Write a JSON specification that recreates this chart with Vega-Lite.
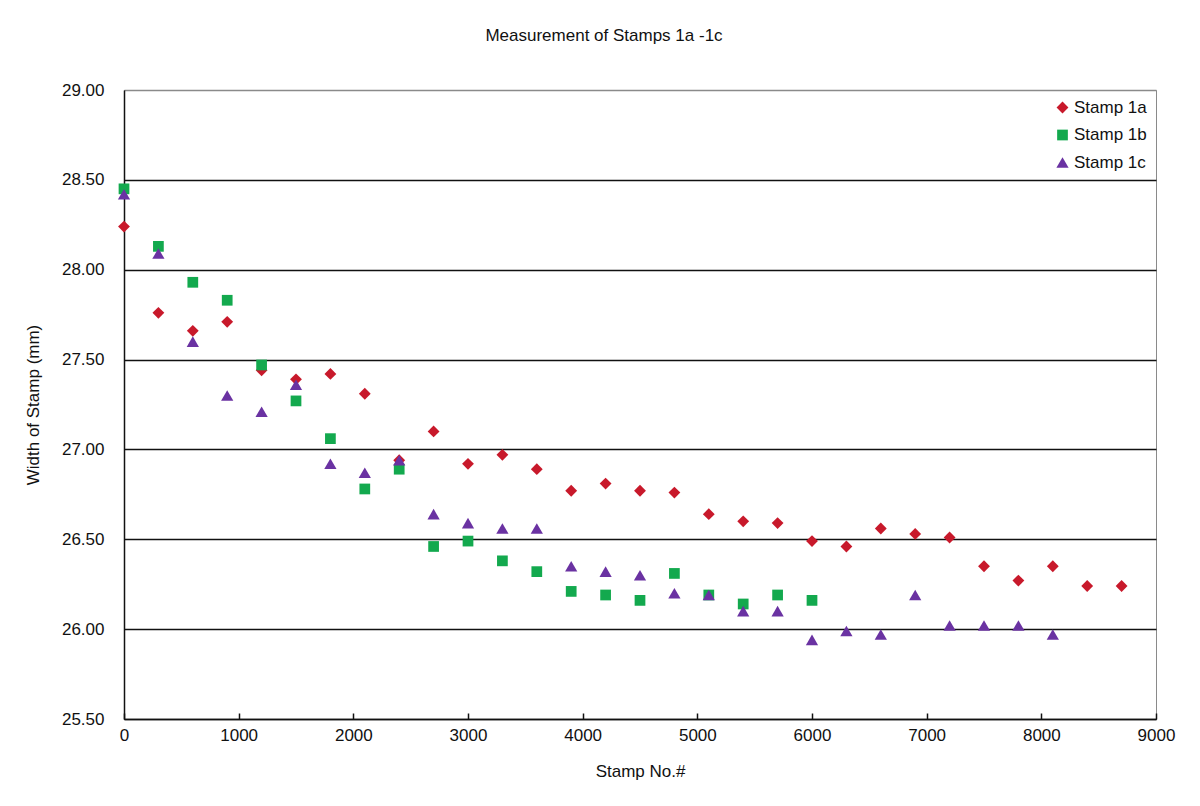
{
  "$schema": "https://vega.github.io/schema/vega-lite/v6.json",
  "width": 1032,
  "height": 629,
  "autosize": {"type": "none"},
  "padding": {"left": 124, "top": 90, "right": 44, "bottom": 87},
  "background": "white",
  "title": {
    "text": "Measurement of Stamps 1a -1c",
    "fontSize": 17,
    "fontWeight": "normal",
    "font": "Liberation Sans",
    "color": "#111",
    "anchor": "middle",
    "dx": -36,
    "offset": 36
  },
  "data": {
    "values": [
      {"n": 0, "w": 28.24, "s": "Stamp 1a"},
      {"n": 300, "w": 27.76, "s": "Stamp 1a"},
      {"n": 600, "w": 27.66, "s": "Stamp 1a"},
      {"n": 900, "w": 27.71, "s": "Stamp 1a"},
      {"n": 1200, "w": 27.44, "s": "Stamp 1a"},
      {"n": 1500, "w": 27.39, "s": "Stamp 1a"},
      {"n": 1800, "w": 27.42, "s": "Stamp 1a"},
      {"n": 2100, "w": 27.31, "s": "Stamp 1a"},
      {"n": 2400, "w": 26.94, "s": "Stamp 1a"},
      {"n": 2700, "w": 27.10, "s": "Stamp 1a"},
      {"n": 3000, "w": 26.92, "s": "Stamp 1a"},
      {"n": 3300, "w": 26.97, "s": "Stamp 1a"},
      {"n": 3600, "w": 26.89, "s": "Stamp 1a"},
      {"n": 3900, "w": 26.77, "s": "Stamp 1a"},
      {"n": 4200, "w": 26.81, "s": "Stamp 1a"},
      {"n": 4500, "w": 26.77, "s": "Stamp 1a"},
      {"n": 4800, "w": 26.76, "s": "Stamp 1a"},
      {"n": 5100, "w": 26.64, "s": "Stamp 1a"},
      {"n": 5400, "w": 26.60, "s": "Stamp 1a"},
      {"n": 5700, "w": 26.59, "s": "Stamp 1a"},
      {"n": 6000, "w": 26.49, "s": "Stamp 1a"},
      {"n": 6300, "w": 26.46, "s": "Stamp 1a"},
      {"n": 6600, "w": 26.56, "s": "Stamp 1a"},
      {"n": 6900, "w": 26.53, "s": "Stamp 1a"},
      {"n": 7200, "w": 26.51, "s": "Stamp 1a"},
      {"n": 7500, "w": 26.35, "s": "Stamp 1a"},
      {"n": 7800, "w": 26.27, "s": "Stamp 1a"},
      {"n": 8100, "w": 26.35, "s": "Stamp 1a"},
      {"n": 8400, "w": 26.24, "s": "Stamp 1a"},
      {"n": 8700, "w": 26.24, "s": "Stamp 1a"},
      {"n": 0, "w": 28.45, "s": "Stamp 1b"},
      {"n": 300, "w": 28.13, "s": "Stamp 1b"},
      {"n": 600, "w": 27.93, "s": "Stamp 1b"},
      {"n": 900, "w": 27.83, "s": "Stamp 1b"},
      {"n": 1200, "w": 27.47, "s": "Stamp 1b"},
      {"n": 1500, "w": 27.27, "s": "Stamp 1b"},
      {"n": 1800, "w": 27.06, "s": "Stamp 1b"},
      {"n": 2100, "w": 26.78, "s": "Stamp 1b"},
      {"n": 2400, "w": 26.89, "s": "Stamp 1b"},
      {"n": 2700, "w": 26.46, "s": "Stamp 1b"},
      {"n": 3000, "w": 26.49, "s": "Stamp 1b"},
      {"n": 3300, "w": 26.38, "s": "Stamp 1b"},
      {"n": 3600, "w": 26.32, "s": "Stamp 1b"},
      {"n": 3900, "w": 26.21, "s": "Stamp 1b"},
      {"n": 4200, "w": 26.19, "s": "Stamp 1b"},
      {"n": 4500, "w": 26.16, "s": "Stamp 1b"},
      {"n": 4800, "w": 26.31, "s": "Stamp 1b"},
      {"n": 5100, "w": 26.19, "s": "Stamp 1b"},
      {"n": 5400, "w": 26.14, "s": "Stamp 1b"},
      {"n": 5700, "w": 26.19, "s": "Stamp 1b"},
      {"n": 6000, "w": 26.16, "s": "Stamp 1b"},
      {"n": 0, "w": 28.42, "s": "Stamp 1c"},
      {"n": 300, "w": 28.09, "s": "Stamp 1c"},
      {"n": 600, "w": 27.60, "s": "Stamp 1c"},
      {"n": 900, "w": 27.30, "s": "Stamp 1c"},
      {"n": 1200, "w": 27.21, "s": "Stamp 1c"},
      {"n": 1500, "w": 27.36, "s": "Stamp 1c"},
      {"n": 1800, "w": 26.92, "s": "Stamp 1c"},
      {"n": 2100, "w": 26.87, "s": "Stamp 1c"},
      {"n": 2400, "w": 26.94, "s": "Stamp 1c"},
      {"n": 2700, "w": 26.64, "s": "Stamp 1c"},
      {"n": 3000, "w": 26.59, "s": "Stamp 1c"},
      {"n": 3300, "w": 26.56, "s": "Stamp 1c"},
      {"n": 3600, "w": 26.56, "s": "Stamp 1c"},
      {"n": 3900, "w": 26.35, "s": "Stamp 1c"},
      {"n": 4200, "w": 26.32, "s": "Stamp 1c"},
      {"n": 4500, "w": 26.30, "s": "Stamp 1c"},
      {"n": 4800, "w": 26.20, "s": "Stamp 1c"},
      {"n": 5100, "w": 26.19, "s": "Stamp 1c"},
      {"n": 5400, "w": 26.10, "s": "Stamp 1c"},
      {"n": 5700, "w": 26.10, "s": "Stamp 1c"},
      {"n": 6000, "w": 25.94, "s": "Stamp 1c"},
      {"n": 6300, "w": 25.99, "s": "Stamp 1c"},
      {"n": 6600, "w": 25.97, "s": "Stamp 1c"},
      {"n": 6900, "w": 26.19, "s": "Stamp 1c"},
      {"n": 7200, "w": 26.02, "s": "Stamp 1c"},
      {"n": 7500, "w": 26.02, "s": "Stamp 1c"},
      {"n": 7800, "w": 26.02, "s": "Stamp 1c"},
      {"n": 8100, "w": 25.97, "s": "Stamp 1c"}
    ]
  },
  "mark": {"type": "point", "filled": true, "opacity": 1},
  "encoding": {
    "x": {
      "field": "n",
      "type": "quantitative",
      "title": "Stamp No.#",
      "scale": {"domain": [0, 9000], "nice": false},
      "axis": {
        "values": [0, 1000, 2000, 3000, 4000, 5000, 6000, 7000, 8000, 9000],
        "format": "d",
        "labelFlush": false,
        "grid": false,
        "tickSize": -6,
        "labelPadding": 14,
        "titlePadding": 20
      }
    },
    "y": {
      "field": "w",
      "type": "quantitative",
      "title": "Width of Stamp (mm)",
      "scale": {"domain": [25.5, 29], "nice": false, "zero": false},
      "axis": {
        "values": [25.5, 26, 26.5, 27, 27.5, 28, 28.5, 29],
        "format": ".2f",
        "ticks": false,
        "labelPadding": 20,
        "titlePadding": 19,
        "gridColor": {"condition": {"test": "datum.value >= 29", "value": "#8a8a8a"}, "value": "#111"},
        "gridWidth": 1.5
      }
    },
    "size": {
      "field": "s",
      "type": "nominal",
      "scale": {
        "type": "ordinal",
        "domain": ["Stamp 1a", "Stamp 1b", "Stamp 1c"],
        "range": [140, 115, 150]
      },
      "legend": null
    },
    "color": {
      "field": "s",
      "type": "nominal",
      "scale": {
        "domain": ["Stamp 1a", "Stamp 1b", "Stamp 1c"],
        "range": ["#c8192b", "#13a94e", "#6a32a2"]
      },
      "legend": {
        "title": null,
        "orient": "top-right",
        "offset": 9,
        "labelFontSize": 17,
        "labelFont": "Liberation Sans",
        "labelColor": "#111",
        "rowPadding": 9.5,
        "labelOffset": 3
      }
    },
    "shape": {
      "field": "s",
      "type": "nominal",
      "scale": {
        "domain": ["Stamp 1a", "Stamp 1b", "Stamp 1c"],
        "range": ["diamond", "square", "triangle-up"]
      },
      "legend": {
        "title": null,
        "orient": "top-right",
        "offset": 9
      }
    }
  },
  "config": {
    "font": "Liberation Sans",
    "view": {"stroke": "#8a8a8a", "strokeWidth": 1},
    "axis": {
      "labelFont": "Liberation Sans",
      "titleFont": "Liberation Sans",
      "labelFontSize": 17,
      "titleFontSize": 17,
      "titleFontWeight": "normal",
      "labelColor": "#111",
      "titleColor": "#111",
      "domainColor": "#111",
      "domainWidth": 1.5,
      "tickColor": "#111",
      "tickWidth": 1.5
    }
  }
}
